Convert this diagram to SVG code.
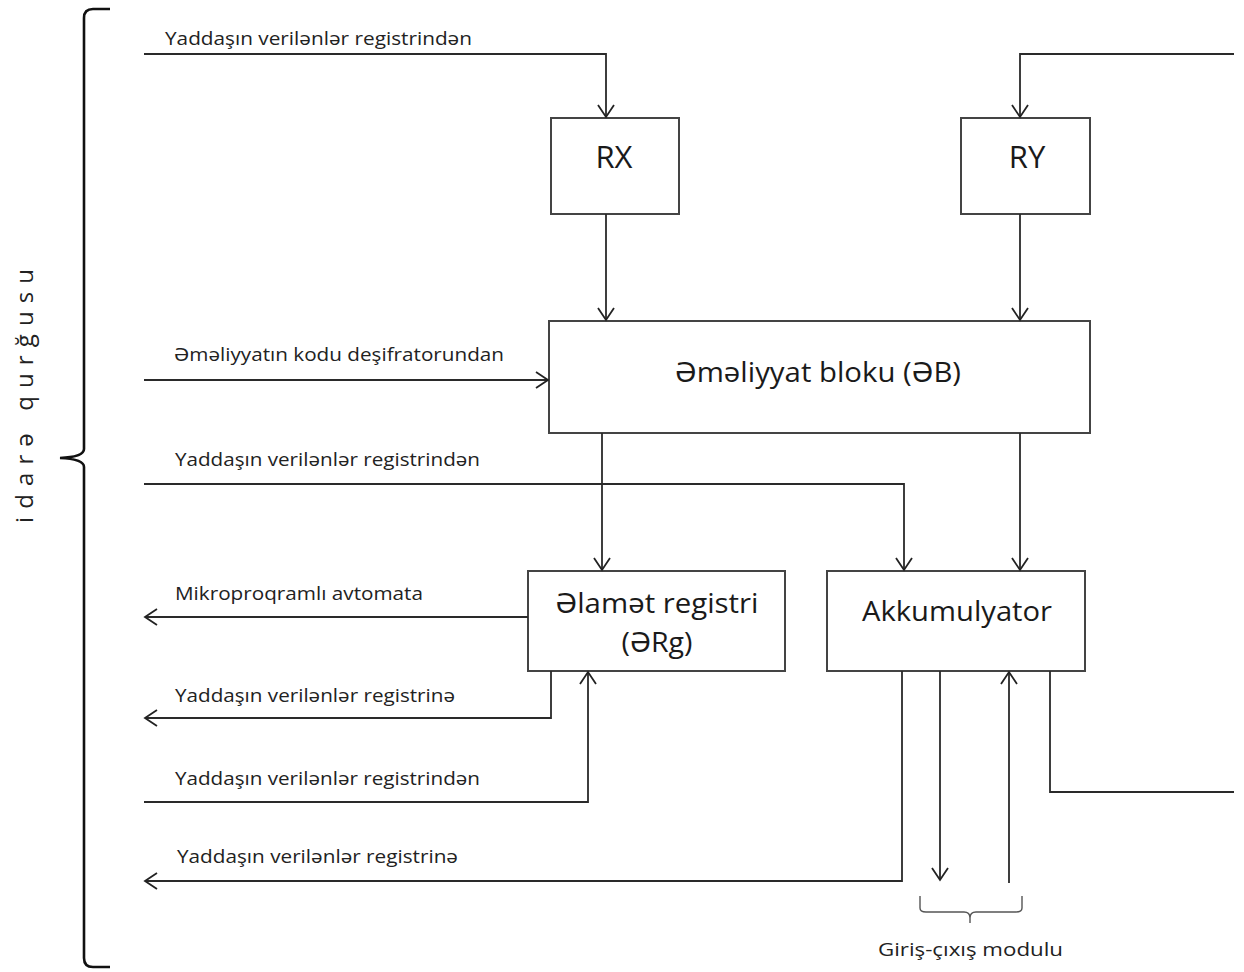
<svg xmlns="http://www.w3.org/2000/svg" width="1244" height="972" viewBox="0 0 1244 972">
  <defs>
    <marker id="arrow" markerUnits="userSpaceOnUse" markerWidth="16" markerHeight="20" viewBox="0 0 16 20" refX="14" refY="10" orient="auto">
      <path d="M2,2 L14,10 L2,18" fill="none" stroke="#222" stroke-width="1.8"/>
    </marker>
    <style>
      .box { fill: #fff; stroke: #444; stroke-width: 2; }
      .wire { fill: none; stroke: #2a2a2a; stroke-width: 1.8; }
      .lbl { font-family: "Open Sans", "Noto Sans", sans-serif; font-size: 18.5px; fill: #222; }
      .side { font-family: "Open Sans", "Noto Sans", sans-serif; font-size: 24px; fill: #222; }
      .big { font-family: "Open Sans", "Noto Sans", sans-serif; font-size: 28px; fill: #1a1a1a; text-anchor: middle; }
      .reg { font-family: "Open Sans", "Noto Sans", sans-serif; font-size: 31px; fill: #1a1a1a; text-anchor: middle; }
    </style>
  </defs>

  <rect width="1244" height="972" fill="#fff"/>

  <!-- control unit brace and title -->
  <g id="control-unit">
    <path d="M110,9 L93,9 Q84,9 84,18 L84,449 Q84,457 60,458 Q84,459 84,467 L84,958 Q84,967 93,967 L110,967" fill="none" stroke="#111" stroke-width="2.6"/>
    <text class="side" transform="translate(33,523) rotate(-90)" textLength="254" lengthAdjust="spacing">idarə qurğusu</text>
  </g>

  <!-- blocks -->
  <g id="rx">
    <rect class="box" x="551" y="118" width="128" height="96"/>
    <text class="reg" x="614" y="168">RX</text>
  </g>
  <g id="ry">
    <rect class="box" x="961" y="118" width="129" height="96"/>
    <text class="reg" x="1027" y="168">RY</text>
  </g>
  <g id="eb">
    <rect class="box" x="549" y="321" width="541" height="112"/>
    <text class="big" x="818" y="382" textLength="286" lengthAdjust="spacingAndGlyphs">Əməliyyat bloku (ƏB)</text>
  </g>
  <g id="erg">
    <rect class="box" x="528" y="571" width="257" height="100"/>
    <text class="big" x="657" y="613" textLength="203" lengthAdjust="spacingAndGlyphs">Əlamət registri</text>
    <text class="big" x="657" y="652" textLength="71" lengthAdjust="spacingAndGlyphs">(ƏRg)</text>
  </g>
  <g id="akkumulyator">
    <rect class="box" x="827" y="571" width="258" height="100"/>
    <text class="big" x="957" y="621" textLength="190" lengthAdjust="spacingAndGlyphs">Akkumulyator</text>
  </g>

  <!-- connectors -->
  <g id="connectors">
    <path class="wire" d="M144,54 H606 V117" marker-end="url(#arrow)"/>
    <path class="wire" d="M1234,54 H1020 V117" marker-end="url(#arrow)"/>
    <path class="wire" d="M606,214 V320" marker-end="url(#arrow)"/>
    <path class="wire" d="M1020,214 V320" marker-end="url(#arrow)"/>
    <path class="wire" d="M144,380 H548" marker-end="url(#arrow)"/>
    <path class="wire" d="M602,433 V570" marker-end="url(#arrow)"/>
    <path class="wire" d="M1020,433 V570" marker-end="url(#arrow)"/>
    <path class="wire" d="M144,484 H904 V570" marker-end="url(#arrow)"/>
    <path class="wire" d="M528,617 H145" marker-end="url(#arrow)"/>
    <path class="wire" d="M551,671 V718 H145" marker-end="url(#arrow)"/>
    <path class="wire" d="M144,802 H588 V672" marker-end="url(#arrow)"/>
    <path class="wire" d="M902,671 V881 H145" marker-end="url(#arrow)"/>
    <path class="wire" d="M940,671 V880" marker-end="url(#arrow)"/>
    <path class="wire" d="M1009,883 V672" marker-end="url(#arrow)"/>
    <path class="wire" d="M1050,671 V792 H1234"/>
  </g>

  <!-- signal labels -->
  <g id="labels">
    <text class="lbl" x="165" y="45" textLength="307" lengthAdjust="spacingAndGlyphs">Yaddaşın verilənlər registrindən</text>
    <text class="lbl" x="174" y="361" textLength="330" lengthAdjust="spacingAndGlyphs">Əməliyyatın kodu deşifratorundan</text>
    <text class="lbl" x="175" y="466" textLength="305" lengthAdjust="spacingAndGlyphs">Yaddaşın verilənlər registrindən</text>
    <text class="lbl" x="175" y="600" textLength="248" lengthAdjust="spacingAndGlyphs">Mikroproqramlı avtomata</text>
    <text class="lbl" x="175" y="702" textLength="280" lengthAdjust="spacingAndGlyphs">Yaddaşın verilənlər registrinə</text>
    <text class="lbl" x="175" y="785" textLength="305" lengthAdjust="spacingAndGlyphs">Yaddaşın verilənlər registrindən</text>
    <text class="lbl" x="177" y="863" textLength="281" lengthAdjust="spacingAndGlyphs">Yaddaşın verilənlər registrinə</text>
  </g>

  <!-- I/O module brace -->
  <g id="io-module">
    <path d="M920,896 V908 Q920,912 926,912 H964 Q970,912 970,918 V923 M970,918 Q970,912 976,912 H1016 Q1022,912 1022,908 V896" fill="none" stroke="#555" stroke-width="1.4"/>
    <text class="lbl" x="878" y="956" textLength="185" lengthAdjust="spacingAndGlyphs">Giriş-çıxış modulu</text>
  </g>
</svg>
